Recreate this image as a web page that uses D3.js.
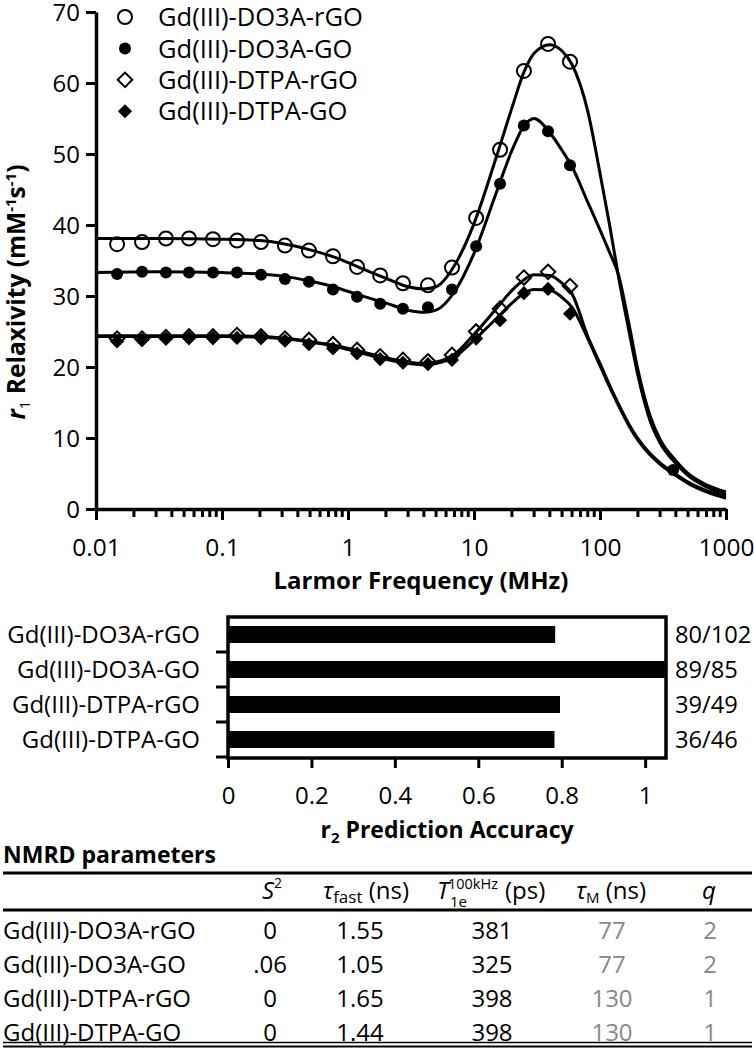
<!DOCTYPE html>
<html><head><meta charset="utf-8">
<script src="https://cdn.jsdelivr.net/npm/d3@7"></script>
<style>body{margin:0;background:#fff}svg{display:block}text{font-family:'Open Sans',sans-serif;fill:#000}</style>
</head><body><svg id="c" width="754" height="1050"></svg>
<script>
// ---------- DATA ----------
const seriesNames = ["Gd(III)-DO3A-rGO","Gd(III)-DO3A-GO","Gd(III)-DTPA-rGO","Gd(III)-DTPA-GO"];
const pointFreq = [0.0147,0.0232,0.0359,0.0547,0.0848,0.1315,0.204,0.316,0.49,0.76,1.18,1.8,2.73,4.31,6.69,10.4,16.1,24.9,38.7,57.8];
const do3aRgoPts = [37.3,37.6,38.1,38.1,38.0,37.8,37.6,37.1,36.4,35.6,34.1,32.9,31.8,31.5,34.0,41.0,50.6,61.7,65.5,63.0];
const do3aGoPts  = [33.1,33.4,33.3,33.3,33.3,33.3,33.0,32.4,32.0,30.9,29.9,28.9,28.2,28.4,30.9,37.0,45.8,54.0,53.2,48.4];
const do3aGoExtraFreq = [380];
const do3aGoExtraPts  = [5.5];
const dtpaRgoPts = [24.0,24.0,24.2,24.3,24.3,24.5,24.3,24.0,23.8,23.2,22.4,21.5,21.0,20.8,21.7,25.0,28.2,32.6,33.4,31.4];
const dtpaGoPts  = [23.6,23.8,24.0,24.1,24.1,24.1,24.1,23.7,23.2,22.6,21.9,21.1,20.6,20.4,21.0,24.0,26.6,30.4,31.0,27.5];

const curveFreq = [0.01,0.03,0.1,0.2,0.3,0.5,0.8,1.2,2,3,4,5,7,10,15,20,25,30,40,50,60,80,100,120,140,170,200,250,300,400,500,700,1000];
const do3aRgoFit = [38.1,38.1,38.0,37.8,37.4,36.5,35.4,34.1,32.5,31.3,31.0,31.3,34.3,40.2,49.5,56.5,61.6,64.2,65.4,64.5,62.6,56.0,47.3,39.7,32.8,25.0,18.8,12.4,9.3,6.4,4.7,3.1,2.0];
const do3aGoFit  = [33.3,33.4,33.3,33.1,32.8,32.1,31.2,30.2,29.0,28.0,27.7,28.0,30.6,36.0,44.5,50.5,54.0,55.0,53.0,50.5,48.2,43.2,39.3,36.0,33.0,26.0,19.6,13.1,9.8,6.8,5.0,3.4,2.4];
const dtpaRgoFit = [24.4,24.4,24.4,24.3,24.1,23.6,23.0,22.3,21.3,20.7,20.5,20.7,21.8,24.6,28.2,30.8,32.3,33.0,32.9,31.8,30.3,24.3,20.5,17.3,14.8,11.9,9.9,7.8,6.5,4.9,3.8,2.6,1.7];
const dtpaGoFit  = [24.3,24.3,24.3,24.2,24.0,23.5,22.9,22.1,21.1,20.5,20.3,20.5,21.4,23.8,26.8,29.0,30.4,30.9,30.8,29.8,28.4,24.0,20.2,17.1,14.6,11.7,9.7,7.6,6.3,4.7,3.6,2.4,1.5];

const yTicks = [0,10,20,30,40,50,60,70];
const xDecades = [0.01,0.1,1,10,100,1000];
const xTickLabels = ["0.01","0.1","1","10","100","1000"];

const barLabels = ["Gd(III)-DO3A-rGO","Gd(III)-DO3A-GO","Gd(III)-DTPA-rGO","Gd(III)-DTPA-GO"];
const barCorrect = [80,89,39,36];
const barTotal = [102,85,49,46];
const barTicks = [0,0.2,0.4,0.6,0.8,1];
const barTickLabels = ["0","0.2","0.4","0.6","0.8","1"];

const tableRows = ["Gd(III)-DO3A-rGO","Gd(III)-DO3A-GO","Gd(III)-DTPA-rGO","Gd(III)-DTPA-GO"];
const colS2 = ["0",".06","0","0"];
const colTauFast = ["1.55","1.05","1.65","1.44"];
const colT1e = ["381","325","398","398"];
const colTauM = ["77","77","130","130"];
const colQ = ["2","2","1","1"];

// ---------- TOP CHART ----------
const svg = d3.select("#c");
const x = d3.scaleLog().domain([0.01,1000]).range([96,726]);
const y = d3.scaleLinear().domain([0,70]).range([509,12]);

const fits = [do3aRgoFit, do3aGoFit, dtpaRgoFit, dtpaGoFit];
const line = d3.line().x((d,i)=>x(curveFreq[i])).y(d=>y(d)).curve(d3.curveMonotoneX);
svg.append("g").selectAll("path").data(fits).join("path")
  .attr("d", d=>line(d)).attr("fill","none").attr("stroke","#000").attr("stroke-width",3);

// axes
const yAxis = d3.axisLeft(y).tickValues(yTicks).tickSize(10).tickSizeOuter(0).tickPadding(6);
const gy = svg.append("g").attr("transform","translate(96,0)").call(yAxis);
gy.select(".domain").attr("stroke-width",3.5);
gy.selectAll(".tick line").attr("stroke-width",3);
gy.selectAll(".tick text").attr("font-size",24).attr("font-family","'Open Sans',sans-serif").attr("dy","0.36em");

const minor=[]; xDecades.slice(0,5).forEach(d=>{for(let k=2;k<=9;k++) minor.push(d*k);});
const xAxis = d3.axisBottom(x).tickValues(xDecades).tickSize(11).tickSizeOuter(0)
  .tickFormat((d,i)=>xTickLabels[i]).tickPadding(20);
const gx = svg.append("g").attr("transform","translate(0,509)").call(xAxis);
gx.select(".domain").attr("stroke-width",3.5);
gx.selectAll(".tick line").attr("stroke-width",3);
gx.selectAll(".tick text").attr("font-size",24.5).attr("font-family","'Open Sans',sans-serif").attr("dy","0.36em").attr("y",38);
gx.selectAll("line.minor").data(minor).join("line").attr("class","minor")
  .attr("x1",d=>x(d)).attr("x2",d=>x(d)).attr("y1",0).attr("y2",8).attr("stroke","#000").attr("stroke-width",3);

// markers
function drawMarker(g, type, cx, cy){
  if(type===0) g.append("circle").attr("cx",cx).attr("cy",cy).attr("r",7).attr("fill","none").attr("stroke","#000").attr("stroke-width",2);
  else if(type===1) g.append("circle").attr("cx",cx).attr("cy",cy).attr("r",6).attr("fill","#000");
  else if(type===2) g.append("path").attr("d",d3.symbol(d3.symbolSquare,105)()).attr("transform",`translate(${cx},${cy}) rotate(45)`).attr("fill","none").attr("stroke","#000").attr("stroke-width",2);
  else g.append("path").attr("d",d3.symbol(d3.symbolSquare,100)()).attr("transform",`translate(${cx},${cy}) rotate(45)`).attr("fill","#000");
}
const ptSeries = [do3aRgoPts, do3aGoPts, dtpaRgoPts, dtpaGoPts];
const gp = svg.append("g");
ptSeries.forEach((vals,si)=>{
  vals.forEach((v,i)=>drawMarker(gp, si, x(pointFreq[i]), y(v)));
});
do3aGoExtraPts.forEach((v,i)=>drawMarker(gp,1,x(do3aGoExtraFreq[i]),y(v)));

// legend
const lg = svg.append("g");
seriesNames.forEach((n,i)=>{
  const cy = 17 + i*31.4;
  drawMarker(lg, i, 125, cy);
  lg.append("text").attr("x",158).attr("y",cy).attr("dy","0.36em").attr("font-size",25.5).text(n);
});

// axis titles
const yt = svg.append("text").attr("transform","translate(25,292) rotate(-90)").attr("text-anchor","middle")
  .attr("font-weight","bold").attr("font-size",24.5);
yt.append("tspan").attr("font-style","italic").text("r");
yt.append("tspan").attr("font-size",15).attr("font-weight","normal").attr("dy",5).text("1");
yt.append("tspan").attr("dy",-5).text(" Relaxivity (mM");
yt.append("tspan").attr("font-size",15).attr("dy",-9).text("-1");
yt.append("tspan").attr("dy",9).text("s");
yt.append("tspan").attr("font-size",15).attr("dy",-9).text("-1");
yt.append("tspan").attr("dy",9).text(")");

svg.append("text").attr("x",421).attr("y",580).attr("dy","0.36em").attr("text-anchor","middle")
  .attr("font-weight","bold").attr("font-size",24).text("Larmor Frequency (MHz)");

// ---------- BAR CHART ----------
const xb = d3.scaleLinear().domain([0,1.05]).range([228,666]);
const yb = d3.scaleBand().domain(barLabels).range([617,757]).paddingInner(0.514).paddingOuter(0.257);
const barVals = barCorrect.map((c,i)=>c/barTotal[i]);
svg.append("g").selectAll("rect").data(barVals).join("rect")
  .attr("x",xb(0)).attr("y",(d,i)=>yb(barLabels[i])).attr("height",yb.bandwidth())
  .attr("width",d=>Math.min(xb(d),xb(1.05))-xb(0)).attr("fill","#000");
// frame
svg.append("rect").attr("x",xb(0)).attr("y",617).attr("width",xb(1.05)-xb(0)).attr("height",758-617)
  .attr("fill","none").attr("stroke","#000").attr("stroke-width",3.5);
// left ticks at band boundaries
const bounds = barLabels.map(l=>yb(l)-yb.step()*yb.paddingInner()/2).concat([757]);
svg.append("g").selectAll("line").data(bounds.slice(1)).join("line")
  .attr("x1",216).attr("x2",xb(0)).attr("y1",d=>d).attr("y2",d=>d).attr("stroke","#000").attr("stroke-width",3);
const xbAxis = d3.axisBottom(xb).tickValues(barTicks).tickSize(10).tickSizeOuter(0).tickFormat((d,i)=>barTickLabels[i]);
const gbx = svg.append("g").attr("transform","translate(0,758)").call(xbAxis);
gbx.select(".domain").attr("stroke","none");
gbx.selectAll(".tick line").attr("stroke-width",3);
gbx.selectAll(".tick text").attr("font-size",24).attr("font-family","'Open Sans',sans-serif").attr("y",37).attr("dy","0.36em");
// labels
svg.append("g").selectAll("text").data(barLabels).join("text")
  .attr("x",200).attr("y",d=>yb(d)+yb.bandwidth()/2).attr("dy","0.36em").attr("text-anchor","end")
  .attr("font-size",24).text(d=>d);
svg.append("g").selectAll("text").data(barLabels).join("text")
  .attr("x",675).attr("y",d=>yb(d)+yb.bandwidth()/2).attr("dy","0.36em")
  .attr("font-size",23.7).text((d,i)=>barCorrect[i]+"/"+barTotal[i]);
const bt = svg.append("text").attr("x",447).attr("y",830).attr("dy","0.36em").attr("text-anchor","middle")
  .attr("font-weight","bold").attr("font-size",23);
bt.append("tspan").text("r");
bt.append("tspan").attr("font-size",15).attr("dy",5).text("2");
bt.append("tspan").attr("dy",-5).text(" Prediction Accuracy");

// ---------- TABLE ----------
svg.append("text").attr("x",3).attr("y",855).attr("dy","0.36em").attr("font-weight","bold").attr("font-size",23).text("NMRD parameters");
svg.append("line").attr("x1",3).attr("x2",752).attr("y1",873).attr("y2",873).attr("stroke","#000").attr("stroke-width",3);
svg.append("line").attr("x1",3).attr("x2",752).attr("y1",910).attr("y2",910).attr("stroke","#000").attr("stroke-width",3);
svg.append("line").attr("x1",3).attr("x2",752).attr("y1",1042.5).attr("y2",1042.5).attr("stroke","#000").attr("stroke-width",1.5);
svg.append("line").attr("x1",3).attr("x2",752).attr("y1",1046.5).attr("y2",1046.5).attr("stroke","#000").attr("stroke-width",2);

const hy = 898.6;
const h1 = svg.append("text").attr("x",272).attr("y",hy).attr("text-anchor","middle").attr("font-size",24);
h1.append("tspan").attr("font-style","italic").text("S");
h1.append("tspan").attr("font-size",14).attr("dy",-11).text("2");
const h2 = svg.append("text").attr("x",366).attr("y",hy).attr("text-anchor","middle").attr("font-size",24);
h2.append("tspan").attr("font-style","italic").text("τ");
h2.append("tspan").attr("font-size",17).attr("dy",4).text("fast");
h2.append("tspan").attr("dy",-4).text(" (ns)");
svg.append("text").attr("x",437).attr("y",hy).attr("font-size",24).attr("font-style","italic").text("T");
svg.append("text").attr("x",448).attr("y",889).attr("font-size",14.5).text("100kHz");
svg.append("text").attr("x",450).attr("y",907).attr("font-size",15).text("1e");
svg.append("text").attr("x",505).attr("y",hy).attr("font-size",24).text("(ps)");
const h4 = svg.append("text").attr("x",611).attr("y",hy).attr("text-anchor","middle").attr("font-size",24);
h4.append("tspan").attr("font-style","italic").text("τ");
h4.append("tspan").attr("font-size",15).attr("dy",4).text("M");
h4.append("tspan").attr("dy",-4).text(" (ns)");
svg.append("text").attr("x",709).attr("y",hy).attr("text-anchor","middle").attr("font-size",24).attr("font-style","italic").text("q");

const rowY = i => 930 + i*34;
const tg = svg.append("g").attr("font-size",24);
tableRows.forEach((r,i)=>{
  const yy = rowY(i);
  tg.append("text").attr("x",3).attr("y",yy).attr("dy","0.36em").text(r);
  tg.append("text").attr("x",270).attr("y",yy).attr("dy","0.36em").attr("text-anchor","middle").text(colS2[i]);
  tg.append("text").attr("x",360).attr("y",yy).attr("dy","0.36em").attr("text-anchor","middle").text(colTauFast[i]);
  tg.append("text").attr("x",492).attr("y",yy).attr("dy","0.36em").attr("text-anchor","middle").text(colT1e[i]);
  tg.append("text").attr("x",612).attr("y",yy).attr("dy","0.36em").attr("text-anchor","middle").style("fill","#888").text(colTauM[i]);
  tg.append("text").attr("x",710).attr("y",yy).attr("dy","0.36em").attr("text-anchor","middle").style("fill","#888").text(colQ[i]);
});
</script></body></html>
